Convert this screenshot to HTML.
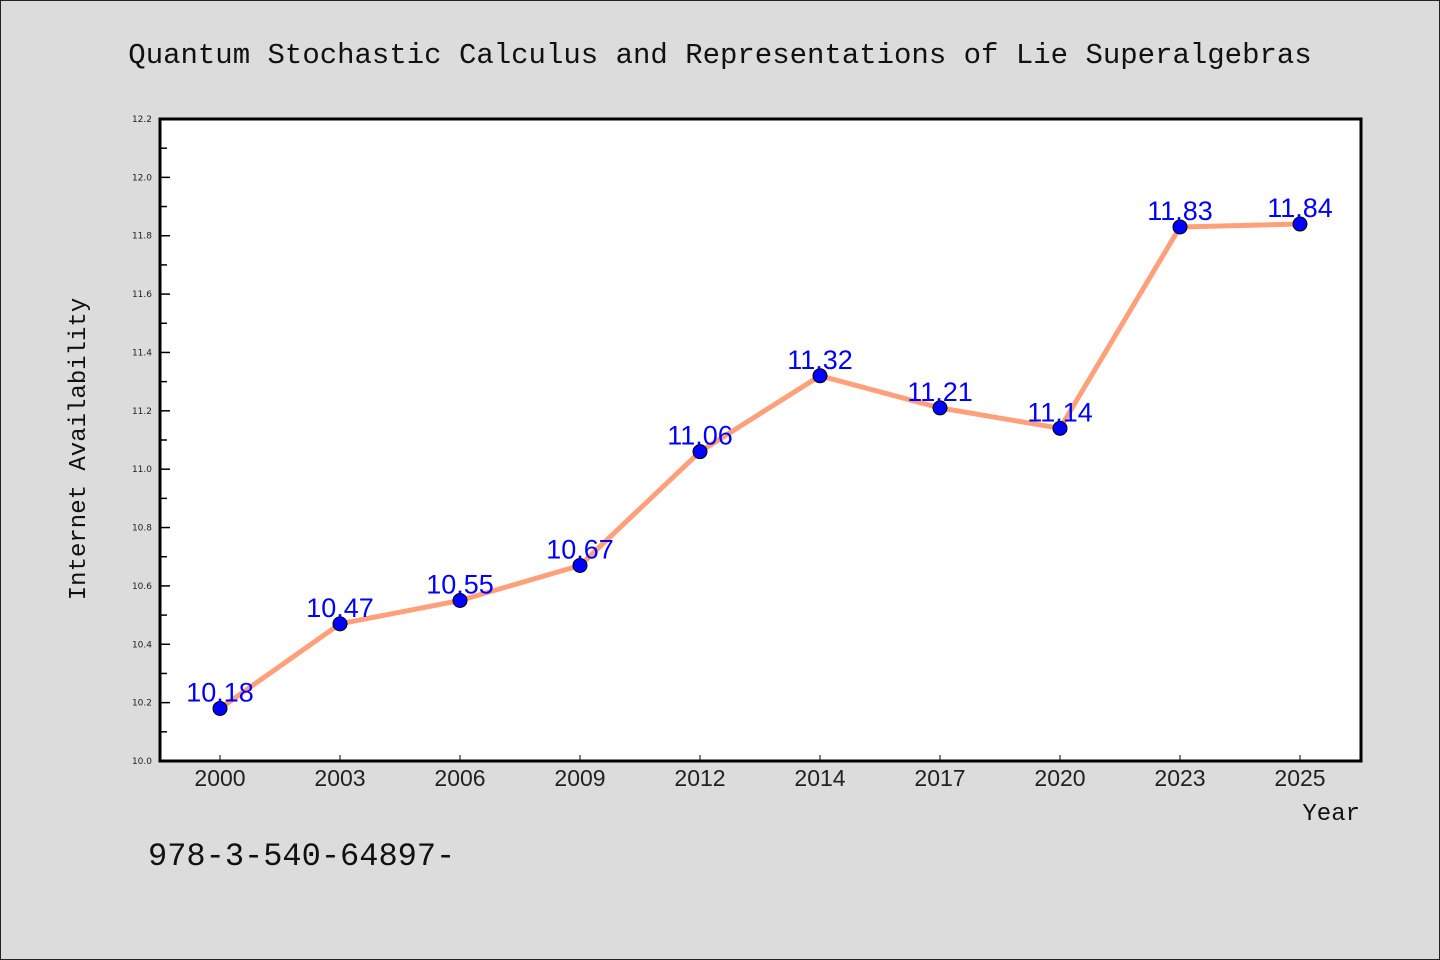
<!DOCTYPE html>
<html><head><meta charset="utf-8"><style>
body{margin:0;background:#dcdcdc;}
svg{display:block}
</style></head><body>
<svg width="1440" height="960" xmlns="http://www.w3.org/2000/svg">
<rect x="0.5" y="0.5" width="1439" height="959" fill="#dcdcdc" stroke="#222"/>
<text x="720" y="63" text-anchor="middle" font-family="'WenQuanYi Zen Hei','Liberation Mono',monospace" font-size="29" fill="#111">Quantum Stochastic Calculus and Representations of Lie Superalgebras</text>
<rect x="160" y="119" width="1201" height="642" fill="#fff"/>
<g id="yaxis"></g>
<g id="xaxis"></g>
<g id="series"></g>
<rect x="160" y="119" width="1201" height="642" fill="none" stroke="#000" stroke-width="3"/>
<text transform="translate(85,449) rotate(-90)" text-anchor="middle" font-family="'WenQuanYi Zen Hei','Liberation Mono',monospace" font-size="24" fill="#111">Internet Availability</text>
<text x="1360" y="820" text-anchor="end" font-family="'WenQuanYi Zen Hei','Liberation Mono',monospace" font-size="24" fill="#111">Year</text>
<text x="148" y="865" font-family="'WenQuanYi Zen Hei','Liberation Mono',monospace" font-size="32" fill="#111">978-3-540-64897-</text>
</svg>
<script>
const categories=["2000","2003","2006","2009","2012","2014","2017","2020","2023","2025"];
const values=[10.18,10.47,10.55,10.67,11.06,11.32,11.21,11.14,11.83,11.84];
const valueLabels=["10.18","10.47","10.55","10.67","11.06","11.32","11.21","11.14","11.83","11.84"];
const yTicks=[10.0,10.2,10.4,10.6,10.8,11.0,11.2,11.4,11.6,11.8,12.0,12.2];
const yMin=10.0,yMax=12.2;
const NS="http://www.w3.org/2000/svg";
const L=160,R=1361,T=119,B=761;
function y(v){return B-(v-yMin)/(yMax-yMin)*(B-T);}
function x(i){return 220+i*(1300-220)/(categories.length-1);}
function mk(t,a,p){const e=document.createElementNS(NS,t);for(const k in a)e.setAttribute(k,a[k]);p.appendChild(e);return e;}
const ya=document.getElementById('yaxis'),xa=document.getElementById('xaxis'),s=document.getElementById('series');
yTicks.forEach((v,i)=>{
 const t=mk('line',{x1:L,x2:L+10,y1:y(v),y2:y(v),stroke:'#000','stroke-width':1.5},ya);
 
 
 if(i<yTicks.length-1){const m=mk('line',{x1:L,x2:L+7,y1:y(v+0.1),y2:y(v+0.1),stroke:'#000','stroke-width':1.5},ya);
 
 }
 const lb=mk('text',{x:L-8,y:y(v)+3,'text-anchor':'end','font-family':'DejaVu Sans,sans-serif','font-size':9,fill:'#222'},ya);
 lb.textContent=v.toFixed(1);
 
 
});
categories.forEach((c,i)=>{
 const t=mk('line',{x1:x(i),x2:x(i),y1:B,y2:B-6,stroke:'#000','stroke-width':1},xa);
 
 
 const lb=mk('text',{x:x(i),y:B+25,'text-anchor':'middle','font-family':'Liberation Sans,sans-serif','font-size':23,fill:'#222'},xa);
 lb.textContent=c;
 
 
});
const pl=mk('polyline',{points:values.map((v,i)=>x(i)+','+y(v)).join(' '),fill:'none',stroke:'#ffa07a','stroke-width':5,'stroke-linejoin':'round'},s);


values.forEach((v,i)=>{
 const c=mk('circle',{cx:x(i),cy:y(v),r:7,fill:'#0000ff',stroke:'#000','stroke-width':1},s);
 
 
});
values.forEach((v,i)=>{
 const t=mk('text',{x:x(i),y:y(v)-7,'text-anchor':'middle','font-family':'Liberation Sans,sans-serif','font-size':27,fill:'#0000ff'},s);
 t.textContent=valueLabels[i];
 
 
});
</script>
</body></html>
